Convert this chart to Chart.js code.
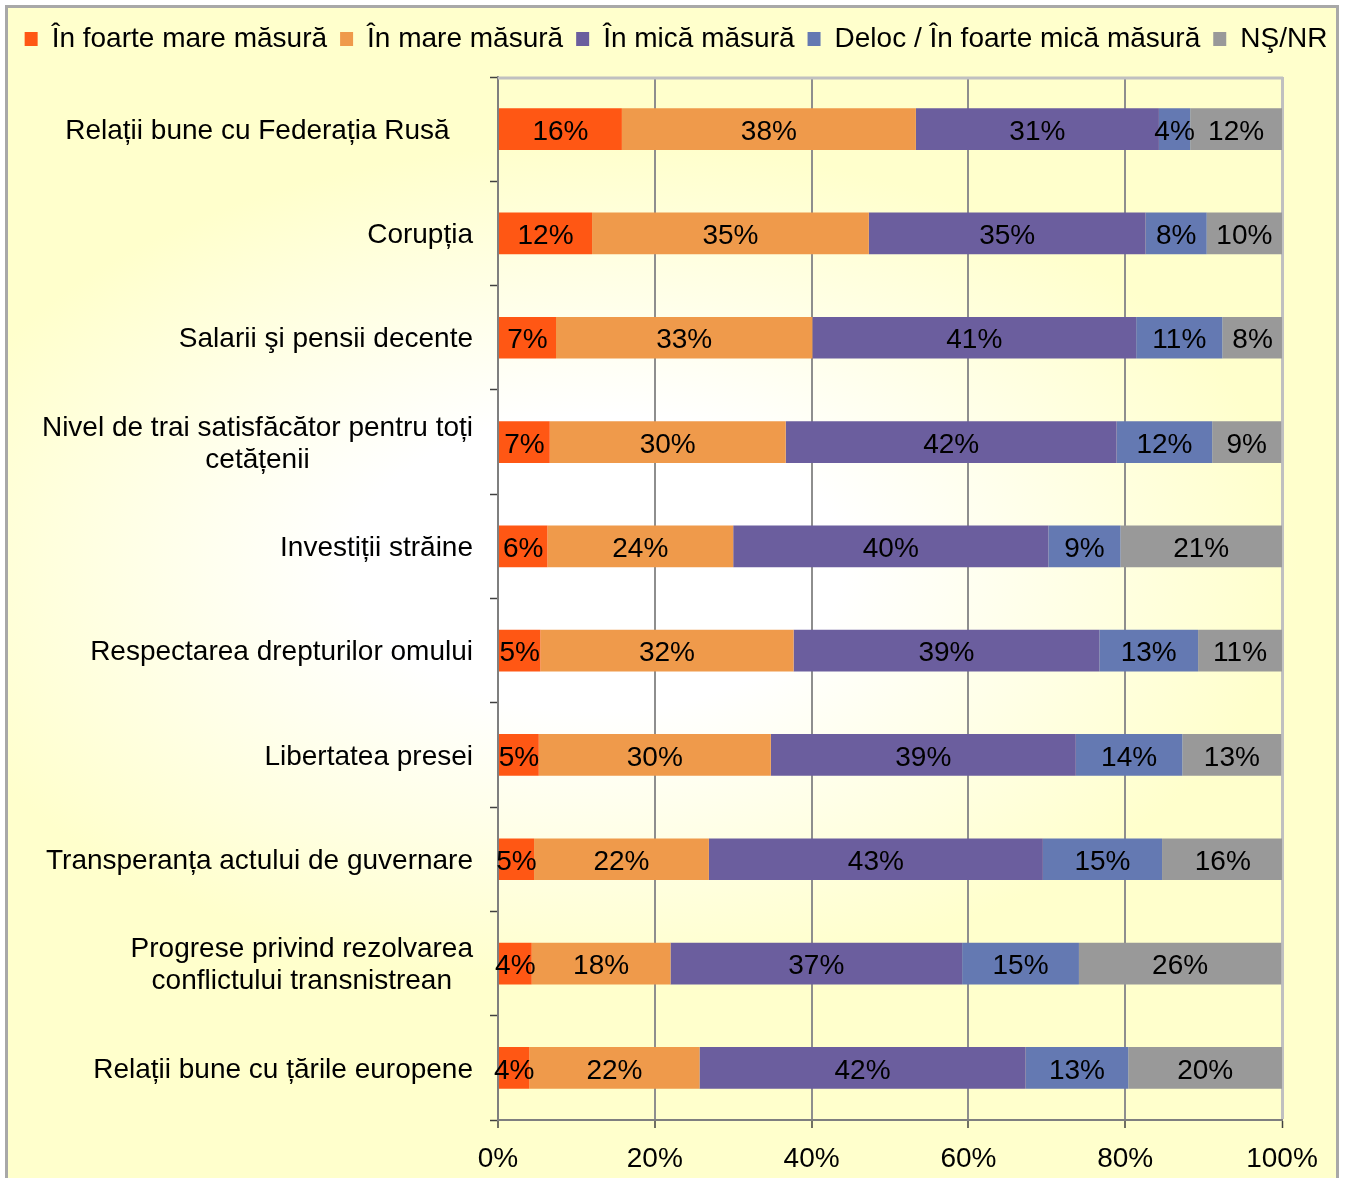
<!DOCTYPE html>
<html>
<head>
<meta charset="utf-8">
<script src="https://cdn.jsdelivr.net/npm/chart.js@4.4.0/dist/chart.umd.min.js"></script>
<style>
  html, body { margin: 0; padding: 0; background: #fff; }
  #frame { position: absolute; left: 5px; top: 5px; width: 1328px; height: 1200px; border: 3px solid #a8a8a8;
    background: radial-gradient(700px 420px at 590px 555px, #ffffff 0%, #ffffff 35%, #ffffcc 100%); }
  #myChart { position: absolute; left: 0; top: 0; }
</style>
</head>
<body>
<div id="frame"></div>
<canvas id="myChart" width="1352" height="1178"></canvas>
<script>
const ctx = document.getElementById('myChart');
const family = "'Liberation Sans', Arial, sans-serif";

// categorii (the first one has trailing spaces in the original)
const categorii = [
    'Relații bune cu Federația Rusă   ',
    'Corupția',
    'Salarii şi pensii decente',
    ['Nivel de trai satisfăcător pentru toți', 'cetățenii'],
    'Investiții străine',
    'Respectarea drepturilor omului',
    'Libertatea presei',
    'Transperanța actului de guvernare',
    ['Progrese privind rezolvarea', 'conflictului transnistrean'],
    'Relații bune cu țările europene'
];

const serii = ['În foarte mare măsură', 'În mare măsură', 'În mică măsură', 'Deloc / În foarte mică măsură', 'NŞ/NR'];
const culori = ['#FF5714', '#EF9A4B', '#6B5E9E', '#6479B2', '#999999'];

const foarteMare = [15.8, 12.0, 7.4, 6.6, 6.3, 5.4, 5.2, 4.6, 4.3, 4.0];
const mare       = [37.5, 35.3, 32.7, 30.1, 23.7, 32.3, 29.6, 22.3, 17.7, 21.7];
const mica       = [31.0, 35.3, 41.3, 42.2, 40.2, 39.0, 38.9, 42.6, 37.2, 41.6];
const deloc      = [4.0, 7.8, 11.0, 12.2, 9.2, 12.6, 13.6, 15.2, 14.9, 13.1];
const nsnr       = [11.7, 9.6, 7.7, 8.8, 20.6, 10.7, 12.6, 15.5, 25.8, 19.6];

const xTicks = ['0%', '20%', '40%', '60%', '80%', '100%'];

// labels inside the bars
const etichete = {
    id: 'etichete',
    afterDatasetsDraw(chart) {
        const c = chart.ctx;
        c.save();
        c.font = '28px ' + family;
        c.fillStyle = '#000';
        c.textAlign = 'center';
        c.textBaseline = 'middle';
        chart.data.datasets.forEach((ds, i) => {
            chart.getDatasetMeta(i).data.forEach((bar, j) => {
                const p = bar.getProps(['x', 'y', 'base'], true);
                c.fillText(Math.round(ds.data[j]) + '%', (p.x + p.base) / 2, p.y + 3);
            });
        });
        c.restore();
    }
};

// category labels, each block right aligned, lines centered
const categLabels = {
    id: 'categLabels',
    afterDraw(chart) {
        const c = chart.ctx;
        const ys = chart.scales.y;
        c.save();
        c.font = '28px ' + family;
        c.fillStyle = '#000';
        c.textAlign = 'center';
        c.textBaseline = 'middle';
        categorii.forEach((lab, i) => {
            const lines = Array.isArray(lab) ? lab : [lab];
            const maxW = Math.max(...lines.map(l => c.measureText(l).width));
            const cx = ys.right - 25 - maxW / 2;
            const yc = ys.getPixelForTick(i) + 2;
            lines.forEach((l, k) => {
                c.fillText(l, cx, yc + (k - (lines.length - 1) / 2) * 32);
            });
        });
        c.restore();
    }
};

// light top border of the plot
const chenar = {
    id: 'chenar',
    beforeDatasetsDraw(chart) {
        const a = chart.chartArea;
        const c = chart.ctx;
        c.save();
        c.strokeStyle = '#c0c0c0';
        c.lineWidth = 3;
        c.beginPath();
        c.moveTo(a.left, a.top + 1);
        c.lineTo(a.right + 1, a.top + 1);
        c.stroke();
        c.restore();
    }
};

new Chart(ctx, {
    type: 'bar',
    data: {
        labels: categorii,
        datasets: [foarteMare, mare, mica, deloc, nsnr].map((d, i) => ({
            label: serii[i],
            data: d,
            backgroundColor: culori[i],
            borderWidth: 0,
            barPercentage: 0.4,
            categoryPercentage: 1.0
        }))
    },
    options: {
        indexAxis: 'y',
        responsive: false,
        animation: false,
        layout: { padding: { top: 12, left: 0, right: 0, bottom: 0 } },
        plugins: {
            legend: {
                position: 'top',
                labels: {
                    boxWidth: 13,
                    boxHeight: 14,
                    padding: 13,
                    color: '#000',
                    font: { size: 28, family: family }
                }
            },
            tooltip: { enabled: false }
        },
        scales: {
            x: {
                type: 'linear',
                stacked: true,
                min: 0,
                max: 100,
                ticks: {
                    stepSize: 20,
                    callback: (v, i) => xTicks[i],
                    color: '#000',
                    padding: 14,
                    maxRotation: 0,
                    font: { size: 28, family: family }
                },
                grid: {
                    color: c => c.index === 5 ? '#c0c0c0' : '#8e8e8e',
                    lineWidth: c => c.index === 5 ? 3 : 2,
                    tickColor: '#404040',
                    tickLength: 8,
                    tickWidth: 1.5
                },
                border: { color: '#7f7f7f', width: 2 },
                afterFit: s => { s.height = 58; }
            },
            y: {
                type: 'category',
                stacked: true,
                ticks: { color: 'rgba(0,0,0,0)', autoSkip: false, font: { size: 28, family: family } },
                grid: { drawOnChartArea: false, tickLength: 8, tickColor: '#404040', tickWidth: 1.5, offset: true },
                border: { color: '#7f7f7f', width: 2 },
                afterFit: s => { s.width = 498; }
            },
            gapTop: {
                type: 'linear',
                position: 'top',
                grid: { display: false },
                ticks: { display: false },
                border: { display: false },
                afterFit: s => { s.height = 14; }
            },
            gapRight: {
                type: 'linear',
                position: 'right',
                grid: { display: false },
                ticks: { display: false },
                border: { display: false },
                afterFit: s => { s.width = 70; }
            }
        }
    },
    plugins: [etichete, categLabels, chenar]
});
</script>
</body>
</html>
